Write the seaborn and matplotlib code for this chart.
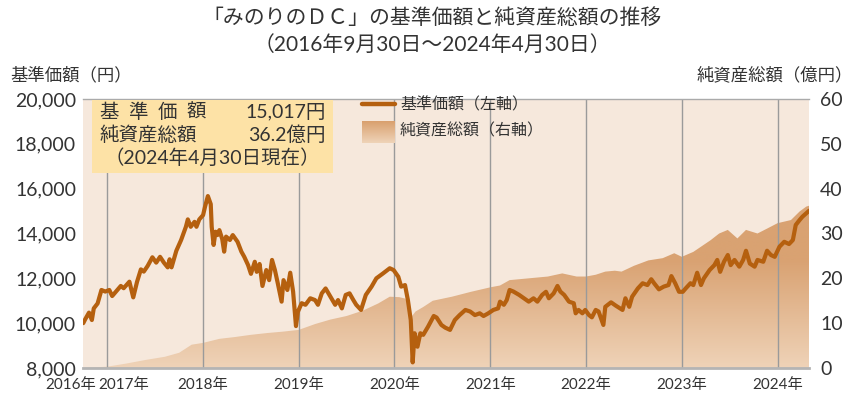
import matplotlib
matplotlib.use("Agg")
import matplotlib.pyplot as plt
import matplotlib.dates as mdates
import matplotlib.transforms as mtransforms
from matplotlib.colors import to_rgb
from matplotlib.lines import Line2D
from matplotlib.patches import Rectangle
from matplotlib.ticker import FuncFormatter
import numpy as np
import pandas as pd
import seaborn as sns

# 基準価額（円）: time as decimal year, value in yen
nav_years = [
    2016.75, 2016.77, 2016.81, 2016.84, 2016.86, 2016.90, 2016.94, 2016.98,
    2017.02, 2017.05, 2017.09, 2017.14, 2017.17, 2017.23, 2017.27, 2017.31, 2017.35, 2017.38,
    2017.42, 2017.47, 2017.51, 2017.55, 2017.59, 2017.63, 2017.65, 2017.67, 2017.72, 2017.77,
    2017.82, 2017.84, 2017.87, 2017.91, 2017.93, 2017.96,
    2018.00, 2018.02, 2018.05, 2018.08, 2018.09, 2018.11, 2018.13, 2018.15, 2018.17, 2018.20,
    2018.22, 2018.24, 2018.28, 2018.31, 2018.36, 2018.40, 2018.43, 2018.47, 2018.50, 2018.54,
    2018.56, 2018.59, 2018.62, 2018.66, 2018.69, 2018.72, 2018.75, 2018.78, 2018.82, 2018.84,
    2018.88, 2018.91, 2018.94, 2018.97, 2018.99,
    2019.03, 2019.07, 2019.12, 2019.17, 2019.20, 2019.24, 2019.28, 2019.32, 2019.38, 2019.41,
    2019.45, 2019.49, 2019.53, 2019.57, 2019.60, 2019.65, 2019.70, 2019.76, 2019.81, 2019.88,
    2019.95, 2019.99,
    2020.04, 2020.07, 2020.11, 2020.14, 2020.17, 2020.19, 2020.21, 2020.24, 2020.27, 2020.30,
    2020.35, 2020.41, 2020.44, 2020.49, 2020.53, 2020.58, 2020.63, 2020.68, 2020.74, 2020.79,
    2020.84, 2020.89, 2020.93, 2020.98,
    2021.03, 2021.08, 2021.10, 2021.14, 2021.17, 2021.20, 2021.24, 2021.30, 2021.35, 2021.40,
    2021.45, 2021.49, 2021.54, 2021.58, 2021.61, 2021.66, 2021.70, 2021.73, 2021.77, 2021.82,
    2021.87, 2021.89, 2021.92, 2021.96, 2021.99,
    2022.03, 2022.06, 2022.10, 2022.13, 2022.18, 2022.20, 2022.26, 2022.31, 2022.38, 2022.41,
    2022.45, 2022.48, 2022.54, 2022.59, 2022.64, 2022.68, 2022.71, 2022.76, 2022.81, 2022.86,
    2022.89, 2022.93, 2022.97,
    2023.01, 2023.04, 2023.09, 2023.12, 2023.16, 2023.20, 2023.23, 2023.29, 2023.34, 2023.37,
    2023.40, 2023.44, 2023.48, 2023.51, 2023.55, 2023.60, 2023.64, 2023.67, 2023.71, 2023.76,
    2023.79, 2023.85, 2023.89, 2023.93, 2023.97,
    2024.02, 2024.07, 2024.12, 2024.16, 2024.19, 2024.23, 2024.26, 2024.30, 2024.33,
]
nav_values = [
    10000, 10170, 10470, 10140, 10660, 10880, 11480, 11410,
    11480, 11210, 11410, 11660, 11560, 11850, 11150, 11850, 12400, 12300,
    12550, 12940, 12700, 12960, 12700, 12490, 12850, 12490, 13230, 13710,
    14300, 14630, 14300, 14520, 14300, 14630,
    14820, 15190, 15670, 15310, 14300, 13490, 14080, 13930, 14150, 13750,
    13190, 13860, 13710, 13930, 13630, 13190, 12960, 12590, 12200, 12740,
    12290, 12640, 11660, 12370, 11920, 12820, 12370, 11780, 10960, 11920,
    11480, 12250, 11410, 9870, 10510,
    10890, 10820, 11110, 11030, 10820, 11330, 11550, 11260, 10820, 11030,
    10660, 11260, 11330, 11030, 10820, 10590, 11260, 11630, 12000, 12220,
    12450, 12370,
    12070, 11630, 11700, 11030, 10140, 8250, 9550, 8950, 9550, 9480,
    9840, 10320, 10250, 9920, 9800, 9700, 10140, 10360, 10590, 10520,
    10360, 10440, 10320, 10440,
    10590, 10660, 10960, 10820, 11030, 11480, 11410, 11260, 11110, 10960,
    11110, 10960, 11260, 11400, 11110, 11330, 11660, 11410, 11260, 10960,
    10890, 10440, 10590, 10440, 10590,
    10360, 10260, 10590, 10520, 9920, 10730, 10930, 10780, 10590, 11110,
    10730, 11180, 11550, 11780, 11700, 11960, 11780, 11510, 11630, 11700,
    12100, 11780, 11400,
    11400, 11550, 11780, 11700, 12250, 11700, 12000, 12370, 12590, 12820,
    12290, 12740, 13040, 12590, 12820, 12520, 12820, 13230, 12660, 12520,
    12820, 12740, 13230, 13040, 12960,
    13410, 13630, 13530, 13710, 14380, 14600, 14750, 14900, 15017,
]

# 純資産総額（億円）
asset_years = [
    2016.75, 2017.00, 2017.20, 2017.40, 2017.60, 2017.75, 2017.88,
    2018.00, 2018.17, 2018.33, 2018.50, 2018.67, 2018.83,
    2019.00, 2019.17, 2019.33, 2019.50, 2019.67, 2019.83, 2019.95,
    2020.05, 2020.11, 2020.15, 2020.18, 2020.22, 2020.30, 2020.40, 2020.60, 2020.80,
    2021.00, 2021.10, 2021.20, 2021.40, 2021.60, 2021.75, 2021.90,
    2022.00, 2022.10, 2022.20, 2022.30, 2022.37, 2022.50, 2022.65, 2022.80, 2022.92,
    2023.00, 2023.12, 2023.30, 2023.39, 2023.48, 2023.58, 2023.67, 2023.79, 2023.90,
    2024.00, 2024.14, 2024.23, 2024.30, 2024.33,
]
asset_values = [
    0.0, 0.3, 1.0, 1.8, 2.5, 3.4, 5.2,
    5.6, 6.5, 6.9, 7.4, 7.8, 8.1,
    8.5, 9.8, 10.8, 11.6, 12.8, 14.4, 15.9,
    15.8, 15.5, 14.4, 11.5, 12.6, 13.6, 15.0, 15.9, 17.0,
    18.0, 18.4, 19.6, 20.0, 20.4, 21.1, 20.4,
    20.4, 20.8, 21.5, 21.7, 21.5, 22.8, 24.0, 24.5, 25.6,
    24.8, 25.9, 28.5, 30.0, 30.8, 28.9, 30.8, 30.0, 31.2,
    32.3, 33.0, 34.9, 36.0, 36.2,
]

year_ticks = [2017, 2018, 2019, 2020, 2021, 2022, 2023, 2024]
year_labels = ["2016年", "2017年", "2018年", "2019年", "2020年",
               "2021年", "2022年", "2023年", "2024年"]
nav_ticks = [8000, 10000, 12000, 14000, 16000, 18000, 20000]
asset_ticks = [0, 10, 20, 30, 40, 50, 60]

start_date = pd.Timestamp("2016-09-30")
end_date = pd.Timestamp("2024-04-30")

LINE = "#b5600f"
BG = "#f6e8dc"
TXT = "#333333"
W, H = 864, 400


def to_date(t):
    year = int(t)
    return pd.Timestamp(year=year, month=1, day=1) + pd.Timedelta(days=(t - year) * 365.25)


def fx(x):
    return x / W


def fy(y):
    return 1 - y / H


nav_df = pd.DataFrame({"date": [to_date(t) for t in nav_years], "nav": nav_values})
asset_df = pd.DataFrame({"date": [to_date(t) for t in asset_years], "asset": asset_values})

sns.set_theme(style="white")
plt.rcParams["font.family"] = ["Lato", "Noto Sans CJK JP", "DejaVu Sans"]

fig = plt.figure(figsize=(8.64, 4.0), dpi=100)
ax = fig.add_axes([fx(83), fy(368), fx(726), 269 / H])
ax.set_facecolor(BG)

# net assets: gradient fill clipped to the area
poly = ax.fill_between(asset_df["date"], asset_df["asset"], 0,
                       facecolor="none", edgecolor="none")
light = np.array(to_rgb("#efd3b8"))
dark = np.array(to_rgb("#d9a272"))
levels = np.linspace(0, 60, 400)
frac = np.clip(levels / 24, 0, 1)[:, None]
grad = light + (dark - light) * frac
x0, x1 = mdates.date2num([start_date, end_date])
im = ax.imshow(np.repeat(grad[:, None, :], 2, axis=1), extent=[x0, x1, 0, 60],
               origin="lower", aspect="auto", zorder=1)
im.set_clip_path(poly.get_paths()[0], transform=ax.transData)

for y in year_ticks:
    ax.axvline(pd.Timestamp(year=y, month=1, day=1), color="#9a9a9a", lw=1, zorder=2)

ax.set_xlim(start_date, end_date)
ax.set_ylim(0, 60)

xt = [start_date] + [pd.Timestamp(year=y, month=1, day=1) for y in year_ticks]
ax.set_xticks(xt)
ax.set_xticklabels(year_labels)
ax.tick_params(axis="x", direction="in", length=5, width=1.5, color="#333333",
               pad=7, labelsize=11, labelcolor=TXT)
ax.xaxis.get_major_ticks()[0].tick1line.set_visible(False)
xlabels = ax.get_xticklabels()
xlabels[0].set_transform(xlabels[0].get_transform()
                         + mtransforms.ScaledTranslation(-12 / 100, 0, fig.dpi_scale_trans))
xlabels[1].set_transform(xlabels[1].get_transform()
                         + mtransforms.ScaledTranslation(16 / 100, 0, fig.dpi_scale_trans))
ax.set_xlabel("")
ax.set_ylabel("")

for side in ["left", "right"]:
    ax.spines[side].set_visible(False)
ax.spines["top"].set_color("#aaaaaa")
ax.spines["top"].set_linewidth(1)
ax.spines["bottom"].set_color("#b4b4b4")
ax.spines["bottom"].set_linewidth(2)

# NAV line on a twin axis, labels on the left
ax_nav = ax.twinx()
sns.lineplot(data=nav_df, x="date", y="nav", ax=ax_nav, color=LINE, lw=3.0, zorder=5)
ax_nav.set_ylim(8000, 20000)
ax_nav.set_yticks(nav_ticks)
ax_nav.yaxis.tick_left()
ax_nav.yaxis.set_major_formatter(FuncFormatter(lambda v, p: f"{v:,.0f}"))
ax_nav.tick_params(axis="y", length=0, pad=5, labelsize=14, labelcolor=TXT)
ax_nav.set_xlabel("")
ax_nav.set_ylabel("")
for s in ax_nav.spines.values():
    s.set_visible(False)
ax_nav.set_xlim(start_date, end_date)

# right axis (net assets) after twinx, which moves ticks left
ax.set_yticks(asset_ticks)
ax.yaxis.tick_right()
ax.tick_params(axis="y", left=False, right=False, labelleft=False, labelright=True,
               length=0, pad=8, labelsize=14, labelcolor=TXT)

# titles and axis captions
fig.text(0.5, fy(18), "「みのりのＤＣ」の基準価額と純資産総額の推移",
         ha="center", va="center", fontsize=15, color=TXT)
fig.text(0.5, fy(45), "（2016年9月30日～2024年4月30日）",
         ha="center", va="center", fontsize=15, color=TXT)
fig.text(fx(10), fy(75), "基準価額（円）", ha="left", va="center", fontsize=12.5, color=TXT)
fig.text(fx(853), fy(75), "純資産総額（億円）", ha="right", va="center", fontsize=12.5, color=TXT)

# info box
fig.add_artist(Rectangle((fx(92), fy(173)), fx(241), 73 / H, transform=fig.transFigure,
                         facecolor="#fde2a6", edgecolor="none", zorder=3))
for i, ch in enumerate("基準価額"):
    fig.text(fx(109 + i * 29), fy(112), ch, ha="center", va="center",
             fontsize=14, color=TXT, zorder=4)
fig.text(fx(100), fy(135), "純資産総額", ha="left", va="center", fontsize=14, color=TXT, zorder=4)
fig.text(fx(326), fy(112), "15,017円", ha="right", va="center", fontsize=14,
         color=TXT, zorder=4)
fig.text(fx(326), fy(135), "36.2億円", ha="right", va="center", fontsize=14,
         color=TXT, zorder=4)
fig.text(fx(212), fy(158), "（2024年4月30日現在）", ha="center", va="center", fontsize=14,
         color=TXT, zorder=4)

# legend
fig.add_artist(Line2D([fx(362), fx(395)], [fy(104), fy(104)], transform=fig.transFigure,
                      color=LINE, lw=3.2, solid_capstyle="round", zorder=4))
leg_ax = fig.add_axes([fx(362), fy(143), fx(33), 22 / H])
leg_grad = light + (np.array(to_rgb("#d89e6b")) - light) * np.linspace(0, 1, 50)[:, None]
leg_ax.imshow(np.repeat(leg_grad[:, None, :], 2, axis=1), origin="lower", aspect="auto")
leg_ax.axis("off")
fig.text(fx(400), fy(105), "基準価額（左軸）", ha="left", va="center", fontsize=11.5, color=TXT)
fig.text(fx(400), fy(131), "純資産総額（右軸）", ha="left", va="center", fontsize=11.5, color=TXT)

fig.savefig("out.png", dpi=100)
